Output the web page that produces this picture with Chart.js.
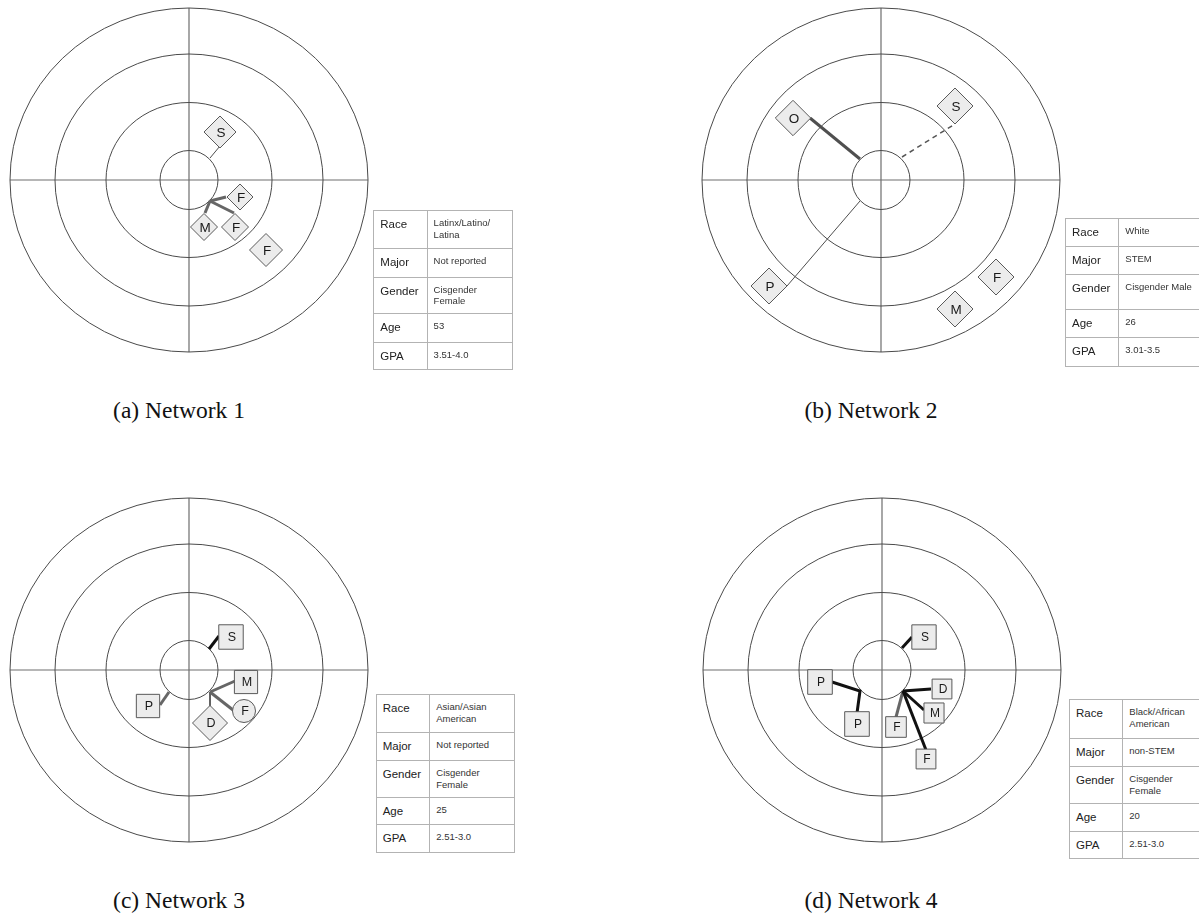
<!DOCTYPE html>
<html>
<head>
<meta charset="utf-8">
<script src="https://cdn.jsdelivr.net/npm/chart.js@4.4.1/dist/chart.umd.min.js"></script>
<style>
  html, body { margin: 0; padding: 0; background: #fff; }
  body { width: 1199px; height: 915px; position: relative; overflow: hidden; }
  canvas { position: absolute; }
  .info { position: absolute; border-collapse: collapse; table-layout: fixed; font-family: "Liberation Sans", Arial, sans-serif; }
  .info td { border: 1.5px solid #b3b3b3; vertical-align: top; padding: 6px 0 0 6px; white-space: pre-line; }
  .info td.k { font-size: 11.5px; color: #222; line-height: 14px; }
  .info td.v { font-size: 9.5px; color: #333; line-height: 11.7px; }
  .cap { position: absolute; font-family: "Liberation Serif", "Times New Roman", serif; font-size: 23.5px; color: #111; transform: translate(-50%, -50%); white-space: nowrap; }
</style>
</head>
<body>
<canvas id="net1" width="370" height="352"></canvas>
<canvas id="net2" width="370" height="352"></canvas>
<canvas id="net3" width="370" height="352"></canvas>
<canvas id="net4" width="370" height="352"></canvas>

<script>
// ring radii (horizontal / vertical), chart units
const ringRx = [29, 83, 134, 179];
const ringRy = [29.5, 77.5, 126, 172];

const rowLabels = ['Race', 'Major', 'Gender', 'Age', 'GPA'];
const captions = ['(a) Network 1', '(b) Network 2', '(c) Network 3', '(d) Network 4'];

// Network 1
const net1Nodes = ['S', 'F', 'M', 'F', 'F'];
const net1X = [31, 51, 15, 46, 77];
const net1Y = [48, -17, -47, -47, -70];
const net1Edges = [
  [[21, 22], [31, 34]],
  [[21, -21], [37, -17]],
  [[21, -21], [45, -33]],
  [[21, -21], [16, -33]]
];
const net1Info = ['Latinx/Latino/\nLatina', 'Not reported', 'Cisgender\nFemale', '53', '3.51-4.0'];

// Network 2
const net2Nodes = ['O', 'S', 'P', 'F', 'M'];
const net2X = [-88, 74, -112, 115, 74];
const net2Y = [62, 74, -106, -97, -129];
const net2Edges = [
  [[-21, 21], [-71, 62]],
  [[21, 23], [74, 56]],
  [[-21, -21], [-94, -106]]
];
const net2Info = ['White', 'STEM', 'Cisgender Male', '26', '3.01-3.5'];

// Network 3
const net3Nodes = ['S', 'M', 'P', 'F', 'D'];
const net3X = [42, 57, -41, 55, 21];
const net3Y = [33, -12, -36, -41, -53];
const net3Edges = [
  [[20, 21], [30, 34]],
  [[-20, -22], [-29, -35]],
  [[21, -22], [46, -11]],
  [[21, -22], [44, -40]],
  [[21, -22], [21, -37]]
];
const net3Info = ['Asian/Asian\nAmerican', 'Not reported', 'Cisgender\nFemale', '25', '2.51-3.0'];

// Network 4
const net4Nodes = ['S', 'P', 'P', 'D', 'M', 'F', 'F'];
const net4X = [42, -62, -25, 60, 52, 14, 44];
const net4Y = [33, -12, -54, -19, -43, -57, -89];
const net4Edges = [
  [[20, 22], [30, 33]],
  [[-50, -12], [-22, -21], [-25, -43]],
  [[21, -21], [49, -19]],
  [[21, -21], [42, -40]],
  [[21, -21], [44, -80]],
  [[21, -21], [14, -47]]
];
const net4Info = ['Black/African\nAmerican', 'non-STEM', 'Cisgender\nFemale', '20', '2.51-3.0'];

// ---- styles ----
const edgeLook = {
  thin:  { color: '#4d4d4d', width: 1, dash: [] },
  dash:  { color: '#555', width: 1.5, dash: [5, 4] },
  gray:  { color: '#666', width: 3, dash: [] },
  dark:  { color: '#4f4f4f', width: 3, dash: [] },
  black: { color: '#111', width: 3, dash: [] }
};

const panes = [
  { id: 'net1', left: 4.3, top: 4.3, nodes: net1Nodes, x: net1X, y: net1Y, edges: net1Edges, info: net1Info,
    shapes: ['rectRot', 'rectRot', 'rectRot', 'rectRot', 'rectRot'], radius: [16, 13, 13.5, 13.5, 16.5], font: 13.5,
    edgeStyle: ['thin', 'gray', 'gray', 'gray'],
    table: { left: 373.3, top: 210, cols: [53.3, 85.7], rows: [38.3, 28.4, 36.6, 28.4, 27.3] },
    cap: [179, 410] },
  { id: 'net2', left: 696, top: 4.3, nodes: net2Nodes, x: net2X, y: net2Y, edges: net2Edges, info: net2Info,
    shapes: ['rectRot', 'rectRot', 'rectRot', 'rectRot', 'rectRot'], radius: [17.7, 18, 18, 18, 18], font: 13.5,
    edgeStyle: ['dark', 'dash', 'thin'],
    table: { left: 1065, top: 218.3, cols: [53.3, 86], rows: [27.7, 28, 35.3, 28, 28.4] },
    cap: [871, 410] },
  { id: 'net3', left: 4.3, top: 494, nodes: net3Nodes, x: net3X, y: net3Y, edges: net3Edges, info: net3Info,
    shapes: ['rect', 'rect', 'rect', 'circle', 'rectRot'], radius: [17.3, 16.4, 16.5, 11.5, 17.5], font: 12.5,
    edgeStyle: ['black', 'gray', 'gray', 'gray', 'thin'],
    table: { left: 375.7, top: 694, cols: [53.6, 85], rows: [38.3, 27.7, 36.7, 27.6, 28] },
    cap: [179, 900] },
  { id: 'net4', left: 696.7, top: 494, nodes: net4Nodes, x: net4X, y: net4Y, edges: net4Edges, info: net4Info,
    shapes: ['rect', 'rect', 'rect', 'rect', 'rect', 'rect', 'rect'], radius: [17.2, 17.4, 17.4, 14, 14.2, 14.6, 14], font: 12,
    edgeStyle: ['black', 'black', 'black', 'black', 'black', 'gray'],
    table: { left: 1069, top: 699.3, cols: [53.3, 86], rows: [39, 27.7, 37.3, 27.4, 27.6] },
    cap: [871, 900] }
];

// concentric rings + crosshair, placed with the chart's own scales
const ringsPlugin = {
  id: 'rings',
  beforeDatasetsDraw(chart) {
    const { ctx, scales: { x, y } } = chart;
    const cx = x.getPixelForValue(0), cy = y.getPixelForValue(0);
    ctx.save();
    ctx.strokeStyle = '#6e6e6e';
    ctx.lineWidth = 1.2;
    const last = ringRx.length - 1;
    ctx.beginPath();
    ctx.moveTo(x.getPixelForValue(-ringRx[last]), cy);
    ctx.lineTo(x.getPixelForValue(ringRx[last]), cy);
    ctx.moveTo(cx, y.getPixelForValue(ringRy[last]));
    ctx.lineTo(cx, y.getPixelForValue(-ringRy[last]));
    ctx.stroke();
    ctx.strokeStyle = '#4a4a4a';
    ctx.lineWidth = 1;
    ringRx.forEach((rx, i) => {
      const px = x.getPixelForValue(rx) - cx;
      const py = cy - y.getPixelForValue(ringRy[i]);
      ctx.beginPath();
      ctx.ellipse(cx, cy, px, py, 0, 0, Math.PI * 2);
      ctx.stroke();
    });
    ctx.restore();
  }
};

const nodeLabels = {
  id: 'nodeLabels',
  afterDatasetsDraw(chart, args, opts) {
    const ctx = chart.ctx;
    const meta = chart.getDatasetMeta(0);
    ctx.save();
    ctx.fillStyle = '#1a1a1a';
    ctx.textAlign = 'center';
    ctx.textBaseline = 'middle';
    ctx.font = opts.size + 'px "Liberation Sans", Arial, sans-serif';
    meta.data.forEach((pt, i) => {
      ctx.fillText(opts.labels[i], pt.x + 1, pt.y + 1);
    });
    ctx.restore();
  }
};

panes.forEach((p, n) => {
  const cv = document.getElementById(p.id);
  cv.style.left = p.left + 'px';
  cv.style.top = p.top + 'px';

  const datasets = [{
    type: 'scatter',
    data: p.x.map((v, i) => ({ x: v, y: p.y[i] })),
    pointStyle: p.shapes,
    pointRadius: p.radius,
    backgroundColor: '#ececec',
    borderColor: '#5a5a5a',
    borderWidth: 1,
    clip: false,
    order: 0
  }];
  p.edges.forEach((pts, i) => {
    const look = edgeLook[p.edgeStyle[i]];
    datasets.push({
      type: 'line',
      data: pts.map(q => ({ x: q[0], y: q[1] })),
      borderColor: look.color,
      borderWidth: look.width,
      borderDash: look.dash,
      pointRadius: 0,
      fill: false,
      tension: 0,
      clip: false,
      order: 1
    });
  });

  new Chart(cv, {
    type: 'scatter',
    data: { datasets },
    options: {
      responsive: false,
      animation: false,
      events: [],
      layout: { padding: 0, autoPadding: false },
      scales: {
        x: { type: 'linear', min: -185, max: 185, display: false },
        y: { type: 'linear', min: -176, max: 176, display: false }
      },
      plugins: {
        legend: { display: false },
        tooltip: { enabled: false },
        nodeLabels: { labels: p.nodes, size: p.font }
      }
    },
    plugins: [ringsPlugin, nodeLabels]
  });

  // info table
  const t = document.createElement('table');
  t.className = 'info';
  t.style.left = p.table.left + 'px';
  t.style.top = p.table.top + 'px';
  t.style.width = (p.table.cols[0] + p.table.cols[1]) + 'px';
  const cg = document.createElement('colgroup');
  p.table.cols.forEach(w => {
    const c = document.createElement('col');
    c.style.width = w + 'px';
    cg.appendChild(c);
  });
  t.appendChild(cg);
  rowLabels.forEach((lab, i) => {
    const tr = document.createElement('tr');
    tr.style.height = p.table.rows[i] + 'px';
    const k = document.createElement('td');
    k.className = 'k';
    k.textContent = lab;
    const v = document.createElement('td');
    v.className = 'v';
    v.textContent = p.info[i];
    tr.appendChild(k);
    tr.appendChild(v);
    t.appendChild(tr);
  });
  document.body.appendChild(t);

  const cap = document.createElement('div');
  cap.className = 'cap';
  cap.style.left = p.cap[0] + 'px';
  cap.style.top = p.cap[1] + 'px';
  cap.textContent = captions[n];
  document.body.appendChild(cap);
});
</script>
</body>
</html>
